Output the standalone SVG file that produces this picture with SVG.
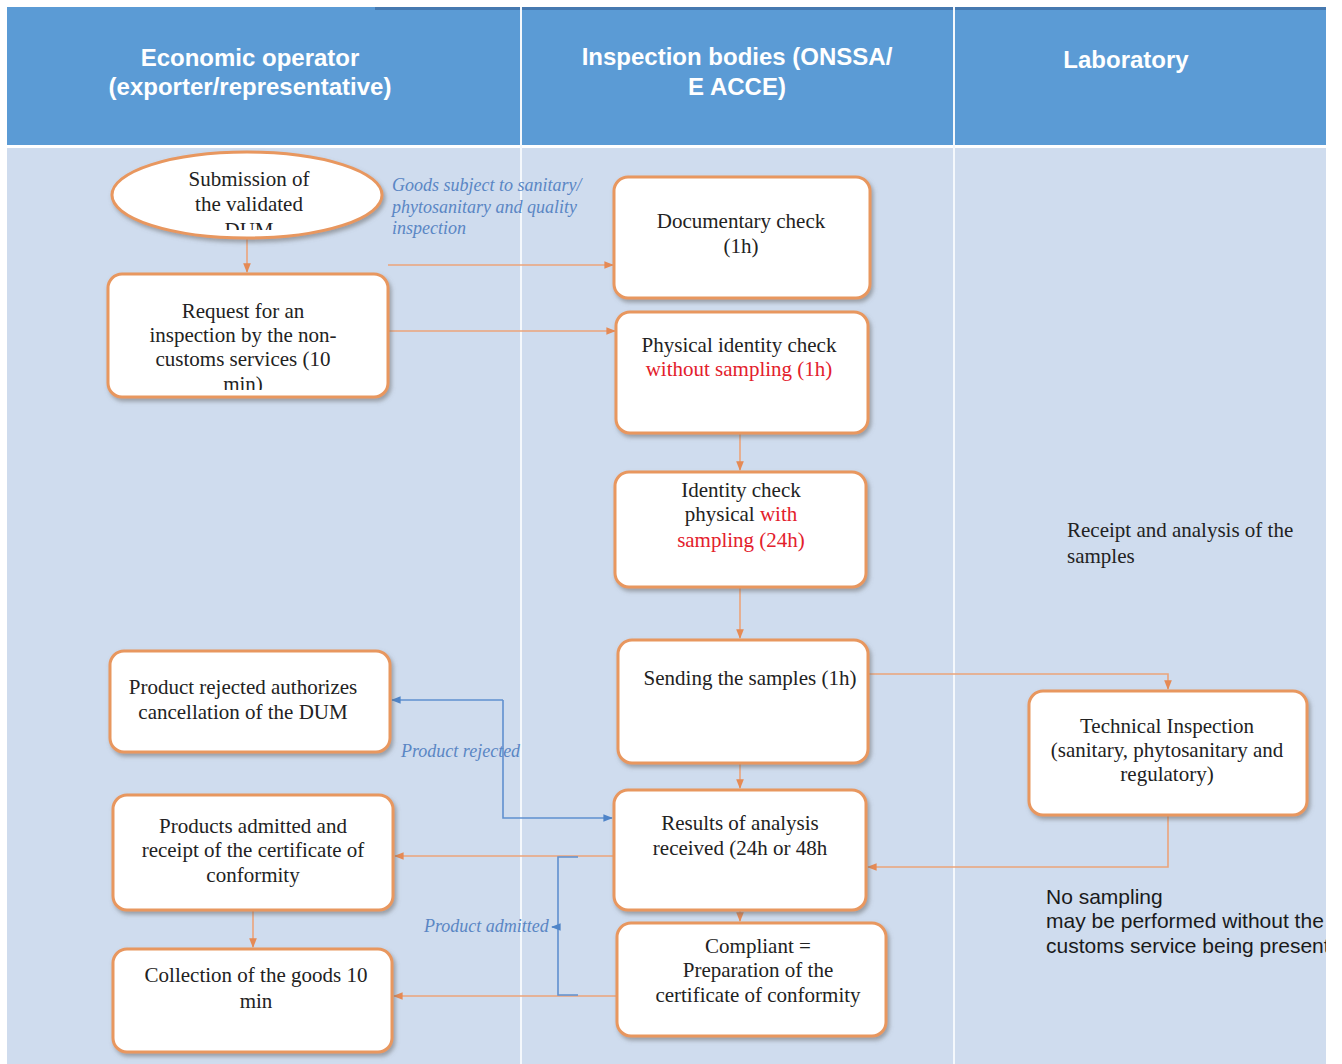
<svg xmlns="http://www.w3.org/2000/svg" width="1342" height="1064" viewBox="0 0 1342 1064">
  <style>
    .hdr { font-family: "Liberation Sans", Arial, sans-serif; font-weight: bold; font-size: 24px; fill: #ffffff; text-anchor: middle; }
    .node rect, .node ellipse { fill: #ffffff; stroke: #e8975f; stroke-width: 3; filter: url(#shadow); }
    .lbl { font-family: "Liberation Serif", "Times New Roman", serif; font-size: 21px; fill: #222222; text-anchor: middle; }
    .red { fill: #e3202b; }
    .note { font-family: "Liberation Serif", "Times New Roman", serif; font-size: 21px; fill: #222222; }
    .sans { font-family: "Liberation Sans", Arial, sans-serif; font-size: 21px; fill: #1a1a1a; }
    .ital { font-family: "Liberation Serif", "Times New Roman", serif; font-style: italic; font-size: 18px; fill: #5a86c4; }
    .co { fill: none; stroke: #eca47a; stroke-width: 1.6; }
    .cb { fill: none; stroke: #5f90cf; stroke-width: 1.6; }
  </style>
  <defs>
    <filter id="shadow" x="-10%" y="-10%" width="125%" height="130%">
      <feDropShadow dx="2" dy="3" stdDeviation="2" flood-color="#6b6b6b" flood-opacity="0.55"/>
    </filter>
    <marker id="ao" viewBox="0 0 10 10" refX="9" refY="5" markerWidth="6" markerHeight="6" orient="auto">
      <path d="M0,1 L10,5 L0,9 z" fill="#e58a55"/>
    </marker>
    <marker id="ab" viewBox="0 0 10 10" refX="9" refY="5" markerWidth="6" markerHeight="6" orient="auto">
      <path d="M0,1 L10,5 L0,9 z" fill="#4f84c8"/>
    </marker>
    <clipPath id="clipEll"><rect x="130" y="160" width="240" height="70"/></clipPath>
    <clipPath id="clipReq"><rect x="110" y="276" width="276" height="114"/></clipPath>
    <clipPath id="clipBody"><rect x="7" y="148" width="1319" height="916"/></clipPath>
  </defs>

  <!-- page background -->
  <rect x="0" y="0" width="1342" height="1064" fill="#ffffff"/>

  <!-- swimlane header -->
  <rect x="7" y="7" width="1319" height="138" fill="#5b9bd5"/>
  <rect x="375" y="7" width="951" height="3" fill="#4679b0"/>
  <!-- swimlane body -->
  <rect x="7" y="148" width="1319" height="916" fill="#cfdcee"/>
  <!-- lane dividers -->
  <rect x="520" y="7" width="2" height="1057" fill="#f4f8fc"/>
  <rect x="953" y="7" width="2" height="1057" fill="#f4f8fc"/>

  <text class="hdr" x="250" y="66">Economic operator</text>
  <text class="hdr" x="250" y="95">(exporter/representative)</text>
  <text class="hdr" x="737" y="65">Inspection bodies (ONSSA/</text>
  <text class="hdr" x="737" y="95">E ACCE)</text>
  <text class="hdr" x="1126" y="68">Laboratory</text>

  <!-- connectors -->
  <g id="connectors">
    <line class="co" x1="247" y1="238" x2="247" y2="272" marker-end="url(#ao)"/>
    <line class="co" x1="388" y1="265" x2="613" y2="265" marker-end="url(#ao)"/>
    <line class="co" x1="388" y1="331" x2="615" y2="331" marker-end="url(#ao)"/>
    <line class="co" x1="740" y1="433" x2="740" y2="470" marker-end="url(#ao)"/>
    <line class="co" x1="740" y1="587" x2="740" y2="638" marker-end="url(#ao)"/>
    <line class="co" x1="740" y1="763" x2="740" y2="788" marker-end="url(#ao)"/>
    <line class="co" x1="740" y1="910" x2="740" y2="921" marker-end="url(#ao)"/>
    <polyline class="co" points="868,674 1168,674 1168,689" marker-end="url(#ao)"/>
    <polyline class="co" points="1168,815 1168,867 868,867" marker-end="url(#ao)"/>
    <line class="co" x1="614" y1="856" x2="395" y2="856" marker-end="url(#ao)"/>
    <line class="co" x1="617" y1="996" x2="394" y2="996" marker-end="url(#ao)"/>
    <line class="co" x1="253" y1="910" x2="253" y2="947" marker-end="url(#ao)"/>
    <!-- product rejected route -->
    <polyline class="cb" points="503,700 503,818 612,818" marker-end="url(#ab)"/>
    <line class="cb" x1="503" y1="700" x2="392" y2="700" marker-end="url(#ab)"/>
    <!-- product admitted bracket -->
    <polyline class="cb" points="578,857 558,857 558,995 578,995"/>
    <line class="cb" x1="558" y1="927" x2="552" y2="927" marker-end="url(#ab)"/>
  </g>

  <!-- nodes -->
  <g id="n-submission" class="node">
    <ellipse cx="247" cy="195" rx="135" ry="43"/>
    <g clip-path="url(#clipEll)">
      <text class="lbl" x="249" y="186">Submission of</text>
      <text class="lbl" x="249" y="211">the validated</text>
      <text class="lbl" x="249" y="237">DUM</text>
    </g>
  </g>

  <g id="n-request" class="node">
    <rect x="108" y="274" width="280" height="123" rx="14"/>
    <g clip-path="url(#clipReq)">
      <text class="lbl" x="243" y="318">Request for an</text>
      <text class="lbl" x="243" y="342">inspection by the non-</text>
      <text class="lbl" x="243" y="366">customs services (10</text>
      <text class="lbl" x="243" y="391">min)</text>
    </g>
  </g>

  <g id="n-documentary" class="node">
    <rect x="614" y="177" width="256" height="121" rx="14"/>
    <text class="lbl" x="741" y="228">Documentary check</text>
    <text class="lbl" x="741" y="253">(1h)</text>
  </g>

  <g id="n-physical-nosampling" class="node">
    <rect x="616" y="312" width="252" height="121" rx="14"/>
    <text class="lbl" x="739" y="352">Physical identity check</text>
    <text class="lbl red" x="739" y="376">without sampling (1h)</text>
  </g>

  <g id="n-physical-sampling" class="node">
    <rect x="615" y="472" width="251" height="115" rx="14"/>
    <text class="lbl" x="741" y="497">Identity check</text>
    <text class="lbl" x="741" y="521">physical <tspan class="red">with</tspan></text>
    <text class="lbl red" x="741" y="547">sampling (24h)</text>
  </g>

  <g id="n-sending" class="node">
    <rect x="618" y="640" width="250" height="123" rx="14"/>
    <text class="lbl" x="750" y="685">Sending the samples (1h)</text>
  </g>

  <g id="n-results" class="node">
    <rect x="614" y="790" width="252" height="120" rx="14"/>
    <text class="lbl" x="740" y="830">Results of analysis</text>
    <text class="lbl" x="740" y="855">received (24h or 48h</text>
  </g>

  <g id="n-compliant" class="node">
    <rect x="617" y="923" width="269" height="113" rx="14"/>
    <text class="lbl" x="758" y="953">Compliant =</text>
    <text class="lbl" x="758" y="977">Preparation of the</text>
    <text class="lbl" x="758" y="1002">certificate of conformity</text>
  </g>

  <g id="n-rejected" class="node">
    <rect x="110" y="651" width="280" height="101" rx="14"/>
    <text class="lbl" x="243" y="694">Product rejected authorizes</text>
    <text class="lbl" x="243" y="719">cancellation of the DUM</text>
  </g>

  <g id="n-admitted" class="node">
    <rect x="113" y="795" width="280" height="115" rx="14"/>
    <text class="lbl" x="253" y="833">Products admitted and</text>
    <text class="lbl" x="253" y="857">receipt of the certificate of</text>
    <text class="lbl" x="253" y="882">conformity</text>
  </g>

  <g id="n-collection" class="node">
    <rect x="113" y="949" width="279" height="103" rx="14"/>
    <text class="lbl" x="256" y="982">Collection of the goods 10</text>
    <text class="lbl" x="256" y="1008">min</text>
  </g>

  <g id="n-technical" class="node">
    <rect x="1029" y="691" width="278" height="124" rx="14"/>
    <text class="lbl" x="1167" y="733">Technical Inspection</text>
    <text class="lbl" x="1167" y="757">(sanitary, phytosanitary and</text>
    <text class="lbl" x="1167" y="781">regulatory)</text>
  </g>

  <!-- free annotations -->
  <text class="note" x="1067" y="537">Receipt and analysis of the</text>
  <text class="note" x="1067" y="563">samples</text>

  <g clip-path="url(#clipBody)">
    <text class="sans" x="1046" y="904">No sampling</text>
    <text class="sans" x="1046" y="928">may be performed without the</text>
    <text class="sans" x="1046" y="953">customs service being present</text>
  </g>

  <text class="ital" x="392" y="191">Goods subject to sanitary/</text>
  <text class="ital" x="392" y="213">phytosanitary and quality</text>
  <text class="ital" x="392" y="234">inspection</text>
  <text class="ital" x="401" y="757">Product rejected</text>
  <text class="ital" x="424" y="932">Product admitted</text>
</svg>
